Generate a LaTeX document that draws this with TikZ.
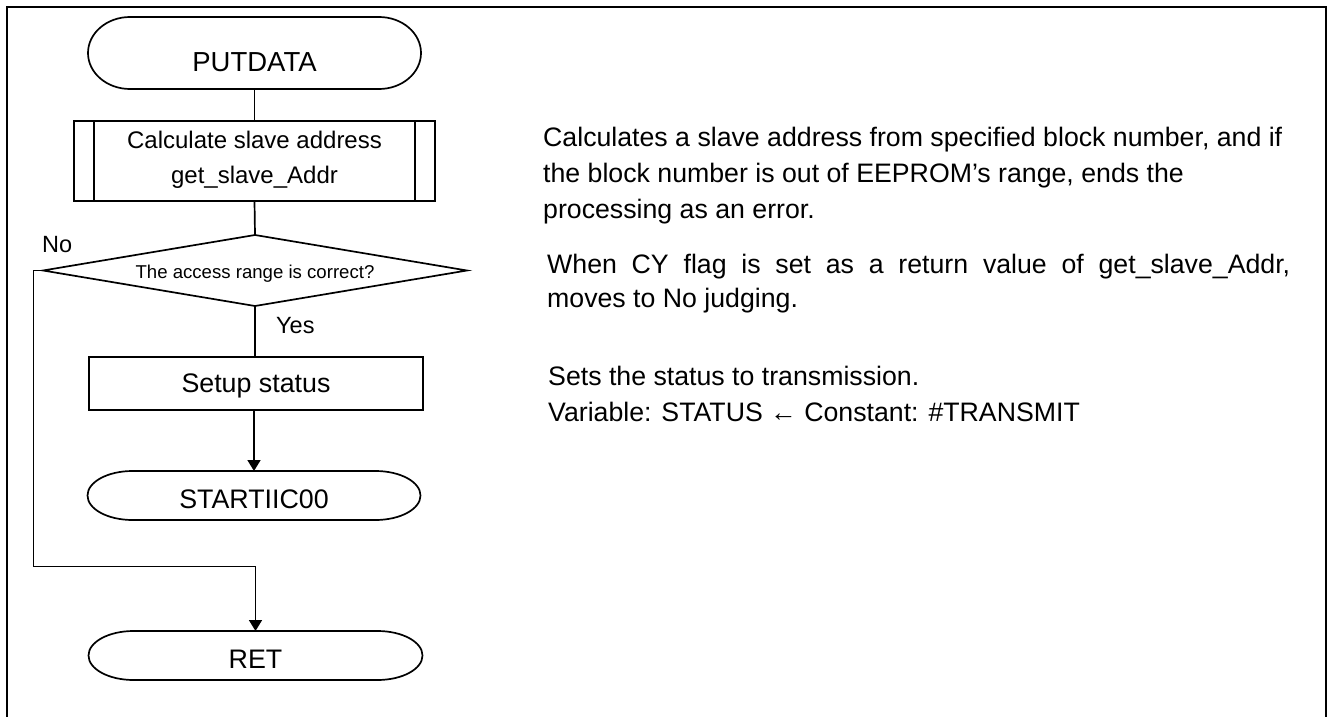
\documentclass[tikz,border=0pt]{standalone}
\usepackage{fontspec}
\setmainfont{Liberation Sans}
\usetikzlibrary{arrows.meta,calc}
\newcommand\drawterm[3]{\draw[flow] ([xshift=#2]#1.north west) -- ([xshift=-#2]#1.north east) arc[start angle=90,end angle=-90,x radius=#2,y radius=#3] -- ([xshift=#2]#1.south west) arc[start angle=270,end angle=90,x radius=#2,y radius=#3] -- cycle;}
\tikzset{
  flow/.style={line width=1.7pt},
  thinline/.style={line width=1pt},
  arr/.style={-{Triangle[length=11pt,width=13pt]}},
  shapebox/.style={rectangle, inner sep=0pt, outer sep=0pt},
  lbl/.style={anchor=base, inner sep=0pt, font=\fontsize{26.8}{30}\selectfont},
  sublbl/.style={anchor=base, inner sep=0pt, font=\fontsize{24}{29}\selectfont},
  yn/.style={anchor=base west, inner sep=0pt, font=\fontsize{23.5}{28}\selectfont},
  declbl/.style={anchor=base, inner sep=0pt, font=\fontsize{18.6}{22}\selectfont},
  note/.style={anchor=base west, inner sep=0pt, font=\fontsize{26.7}{36}\selectfont},
}
\begin{document}
\begin{tikzpicture}[x=1pt,y=-1pt]
\useasboundingbox (0,0) rectangle (1328,717);
% frame
\draw[line width=2pt] (7,720) -- (7,7) -- (1326,7) -- (1326,720);

% PUTDATA
\node[shapebox, minimum width=333pt, minimum height=72pt] (putdata) at (254.5,53) {};
\drawterm{putdata}{42pt}{36pt}
\node[lbl, font=\fontsize{27.5}{30}\selectfont] (putdatat) at (254.5,71) {PUTDATA};

% subroutine
\node[shapebox, draw, flow, minimum width=361pt, minimum height=80pt] (calc) at (254.5,161) {};
\draw[flow] ([xshift=20pt]calc.north west) -- ([xshift=20pt]calc.south west);
\draw[flow] ([xshift=-20pt]calc.north east) -- ([xshift=-20pt]calc.south east);
\node[sublbl] (calct1) at (254.5,148) {Calculate slave address};
\node[sublbl] (calct2) at (254.5,183) {get\_slave\_Addr};

% decision
\node[shapebox, minimum width=424pt, minimum height=71pt] (dec) at (255,270.5) {};
\draw[flow] (dec.north) -- (dec.east) -- (dec.south) -- (dec.west) -- cycle;
\node[declbl] (dect) at (255,278) {The access range is correct?};
\node[yn] (no) at (42,252) {No};
\node[yn] (yes) at (276,333) {Yes};

% setup status
\node[shapebox, draw, flow, minimum width=334pt, minimum height=53pt] (setup) at (256,383.5) {};
\node[lbl] (setupt) at (256,392) {Setup status};

% STARTIIC00
\node[shapebox, minimum width=333pt, minimum height=49pt] (start) at (254,495.5) {};
\drawterm{start}{45pt}{24.5pt}
\node[lbl] (startt) at (254,508) {STARTIIC00};

% RET
\node[shapebox, minimum width=334pt, minimum height=49pt] (ret) at (255.5,655.5) {};
\drawterm{ret}{45pt}{24.5pt}
\node[lbl] (rett) at (255.5,668) {RET};

% connectors
\draw[flow] (putdata.south) -- (calc.north);
\draw[flow] (calc.south) -- (dec.north);
\draw[flow] (dec.south) -- (dec.south |- setup.north);
\draw[flow, arr] (setup.south -| start.north) -- (start.north);
\coordinate (jn) at ($(ret.north)+(0,-65)$);
\draw[thinline] (dec.west) -- ++(-10,0) |- (jn);
\draw[flow, arr] (jn) -- (ret.north);

% notes
\node[note] (p1a) at (543,146) {Calculates a slave address from specified block number, and if};
\node[note] (p1b) at (543,182) {the block number is out of EEPROM’s range, ends the};
\node[note] (p1c) at (543,218) {processing as an error.};
\node[note] (p2a) at (547,273) {\makebox[743pt][s]{When CY flag is set as a return value of get\_slave\_Addr,}};
\node[note] (p2b) at (547,307) {moves to No judging.};
\node[note] (p3a) at (548,385) {Sets the status to transmission.};
\node[note] (p3b) at (548,421) {Variable: STATUS ← Constant: \#TRANSMIT};
\end{tikzpicture}
\end{document}
